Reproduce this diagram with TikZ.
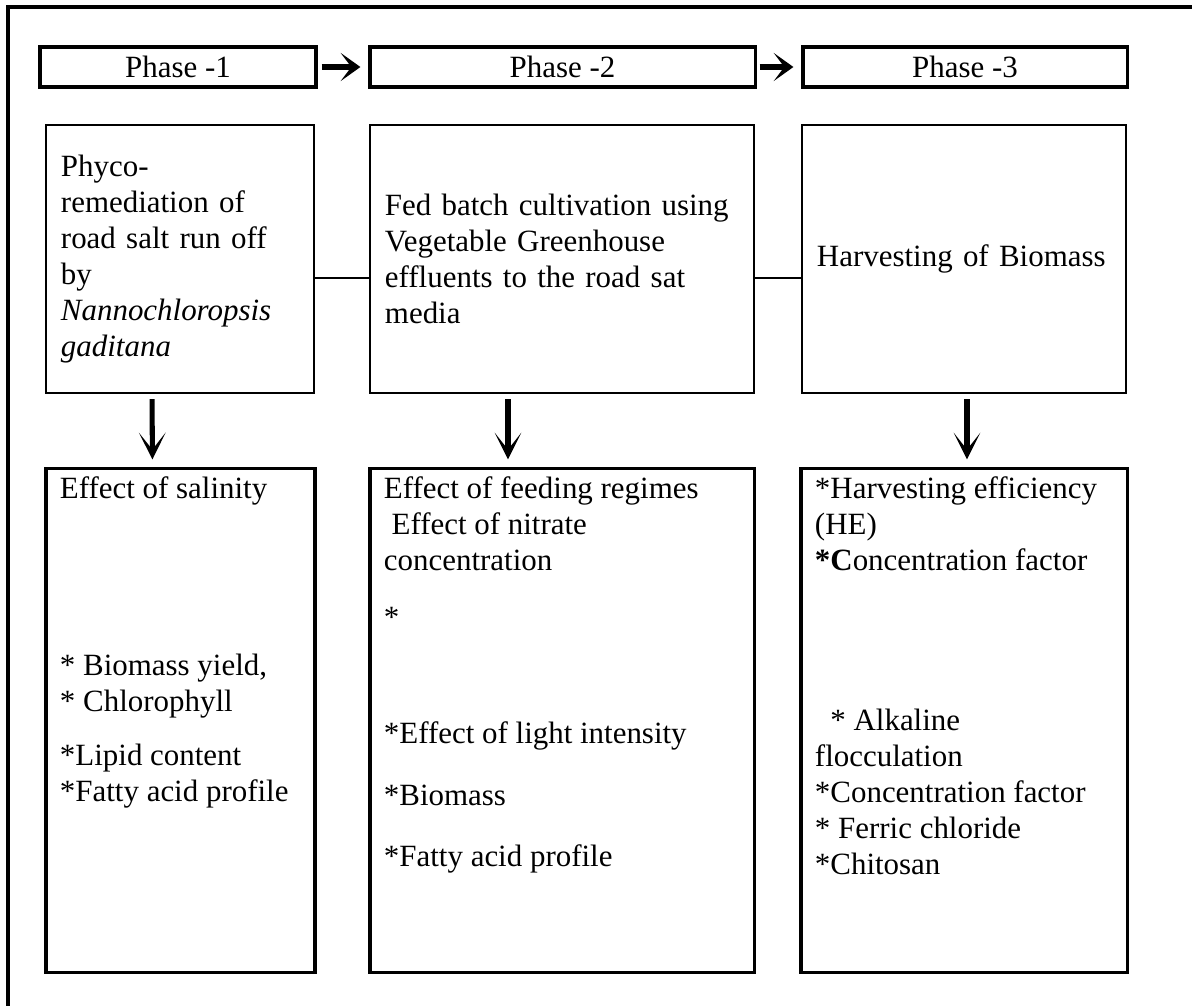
\documentclass[tikz,border=0pt]{standalone}
\usepackage{fontspec}
\setmainfont{Liberation Serif}
\usetikzlibrary{arrows.meta,calc}

\begin{document}
\begin{tikzpicture}[>=latex,x=0.025cm,y=-0.025cm]
\tikzstyle{phase}=[draw,line width=2.2pt,minimum height=1cm,inner sep=0pt,font=\fontsize{22}{25.6}\selectfont]%
\tikzstyle{stage}=[draw,line width=1.4pt,minimum height=6.7cm,inner xsep=0.375cm,inner ysep=0pt,align=left,font=\fontsize{22}{25.6}\selectfont]%
\tikzstyle{result}=[draw,line width=2.2pt,inner xsep=0.35cm,inner ysep=0.2cm,font=\fontsize{22}{25.6}\selectfont]%
\tikzstyle{joint}=[line width=1.4pt]%
\tikzstyle{nextphase}=[line width=4.6pt,-{Stealth[length=14pt,width=20pt,inset=7.5pt]}]%
\tikzstyle{drop}=[line width=3.6pt,-{Stealth[length=19pt,width=19pt,inset=12pt]}]%
\useasboundingbox (0,0) rectangle (1192,1006);
% frame
\draw[line width=2.2pt] (8,1006) -- (8,7) -- (1192,7);
% phases
\node[phase,minimum width=6.9cm] (ph1) at (178,67) {Phase -1};
\node[phase,minimum width=9.625cm] (ph2) at (562.5,67) {Phase -2};
\node[phase,minimum width=8.1cm] (ph3) at (965,67) {Phase -3};
\draw[nextphase,shorten <=0.1cm,shorten >=0.2cm] (ph1) -- (ph2);
\draw[nextphase,shorten <=0.075cm,shorten >=0.2cm] (ph2) -- (ph3);
% stages
\node[stage,text width=5.95cm] (m1) at (180,259) {Phyco-\\remediation of\\road salt run off\\by\\\textit{Nannochloropsis}\\\textit{gaditana}};
\node[stage,text width=8.85cm] (m2) at (562,259) {Fed batch cultivation using\\Vegetable Greenhouse\\effluents to the road sat\\media};
\node[stage,text width=7.35cm] (m3) at (964,259) {Harvesting of Biomass};
\draw[joint] ($(m1.east)+(0,19)$) -- ($(m2.west)+(0,19)$);
\draw[joint] ($(m2.east)+(0,19)$) -- ($(m3.west)+(0,19)$);
% results
\node[result] (b1) at (180.5,720.5) {\parbox[t][12.175cm][t]{6.025cm}{Effect of salinity\\[100pt]
{*} Biomass yield,\\
{*} Chlorophyll\\[13pt]
{*}Lipid content\\
{*}Fatty acid profile}};
\node[result] (b2) at (562,720.5) {\parbox[t][12.175cm][t]{8.9cm}{Effect of feeding regimes\\
\hspace*{0.25em}Effect of nitrate\\
concentration\\[15pt]
{*}\\[57pt]
{*}Effect of light intensity\\[18pt]
{*}Biomass\\[18pt]
{*}Fatty acid profile}};
\node[result] (b3) at (964,720.5) {\parbox[t][12.175cm][t]{7.45cm}{{*}Harvesting efficiency\\
(HE)\\
\textbf{*C}oncentration factor\\[88pt]
\hspace*{0.5em}* Alkaline\\
flocculation\\
{*}Concentration factor\\
{*} Ferric chloride\\
{*}Chitosan}};
% arrows
\draw[drop,shorten <=0.125cm,shorten >=0.2cm] ($(m1.south)+(-28,0)$) -- ($(b1.north)+(-28,0)$);
\draw[drop,shorten <=0.125cm,shorten >=0.2cm] ($(m2.south)+(-54,0)$) -- ($(b2.north)+(-54,0)$);
\draw[drop,shorten <=0.125cm,shorten >=0.2cm] ($(m3.south)+(3,0)$) -- ($(b3.north)+(3,0)$);
\end{tikzpicture}
\end{document}
